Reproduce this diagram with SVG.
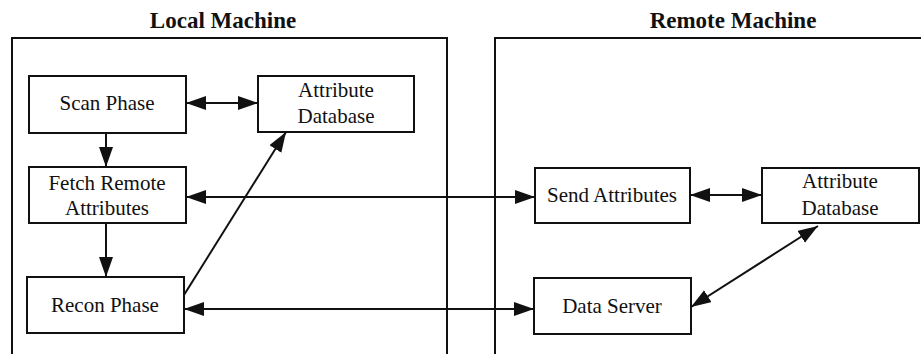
<svg xmlns="http://www.w3.org/2000/svg" width="921" height="354" viewBox="0 0 921 354">
<style>
  .frame{fill:none;stroke:#111;stroke-width:2}
  .node rect{fill:#fff;stroke:#111;stroke-width:2}
  .node text{font-family:"Liberation Serif","Times New Roman",serif;font-size:21px;fill:#111;text-anchor:middle}
  .title{font-family:"Liberation Serif","Times New Roman",serif;font-size:23px;font-weight:bold;fill:#111;text-anchor:middle}
  .conn line{stroke:#111;stroke-width:2;fill:none}
</style>
<defs>
  <marker id="ah" markerUnits="userSpaceOnUse" markerWidth="22" markerHeight="16" refX="20" refY="7" orient="auto-start-reverse">
    <path d="M0,0 L20,7 L0,14 z" fill="#111"/>
  </marker>
</defs>
<rect width="921" height="354" fill="#fff"/>
<g id="local-machine">
  <text class="title" x="223" y="28">Local Machine</text>
  <path class="frame" d="M12,360 L12,38 L447,38 L447,360"/>
</g>
<g id="remote-machine">
  <text class="title" x="733" y="28">Remote Machine</text>
  <path class="frame" d="M495,360 L495,38 L925,38"/>
</g>
<g id="scan-phase" class="node">
  <rect x="29" y="76" width="157" height="57"/>
  <text x="107" y="110">Scan Phase</text>
</g>
<g id="attr-db-local" class="node">
  <rect x="258" y="76" width="156" height="56"/>
  <text x="336" y="97">Attribute</text>
  <text x="336" y="123">Database</text>
</g>
<g id="fetch-remote" class="node">
  <rect x="29" y="167" width="157" height="56"/>
  <text x="107" y="190">Fetch Remote</text>
  <text x="107" y="215">Attributes</text>
</g>
<g id="recon-phase" class="node">
  <rect x="27" y="277" width="157" height="56"/>
  <text x="105" y="312">Recon Phase</text>
</g>
<g id="send-attributes" class="node">
  <rect x="535" y="168" width="155" height="55"/>
  <text x="612" y="202">Send Attributes</text>
</g>
<g id="attr-db-remote" class="node">
  <rect x="762" y="168" width="157" height="55"/>
  <text x="840" y="188">Attribute</text>
  <text x="840" y="215">Database</text>
</g>
<g id="data-server" class="node">
  <rect x="534" y="278" width="157" height="56"/>
  <text x="612" y="313">Data Server</text>
</g>
<g id="connectors" class="conn">
  <line x1="106" y1="133" x2="106" y2="167" marker-end="url(#ah)"/>
  <line x1="106" y1="223" x2="106" y2="277" marker-end="url(#ah)"/>
  <line x1="186" y1="103" x2="258" y2="103" marker-start="url(#ah)" marker-end="url(#ah)"/>
  <line x1="184" y1="295" x2="286" y2="132" marker-end="url(#ah)"/>
  <line x1="186" y1="197" x2="535" y2="197" marker-start="url(#ah)" marker-end="url(#ah)"/>
  <line x1="184" y1="309" x2="534" y2="309" marker-start="url(#ah)" marker-end="url(#ah)"/>
  <line x1="690" y1="195" x2="762" y2="195" marker-start="url(#ah)" marker-end="url(#ah)"/>
  <line x1="691" y1="307" x2="818" y2="226" marker-start="url(#ah)" marker-end="url(#ah)"/>
</g>
</svg>
